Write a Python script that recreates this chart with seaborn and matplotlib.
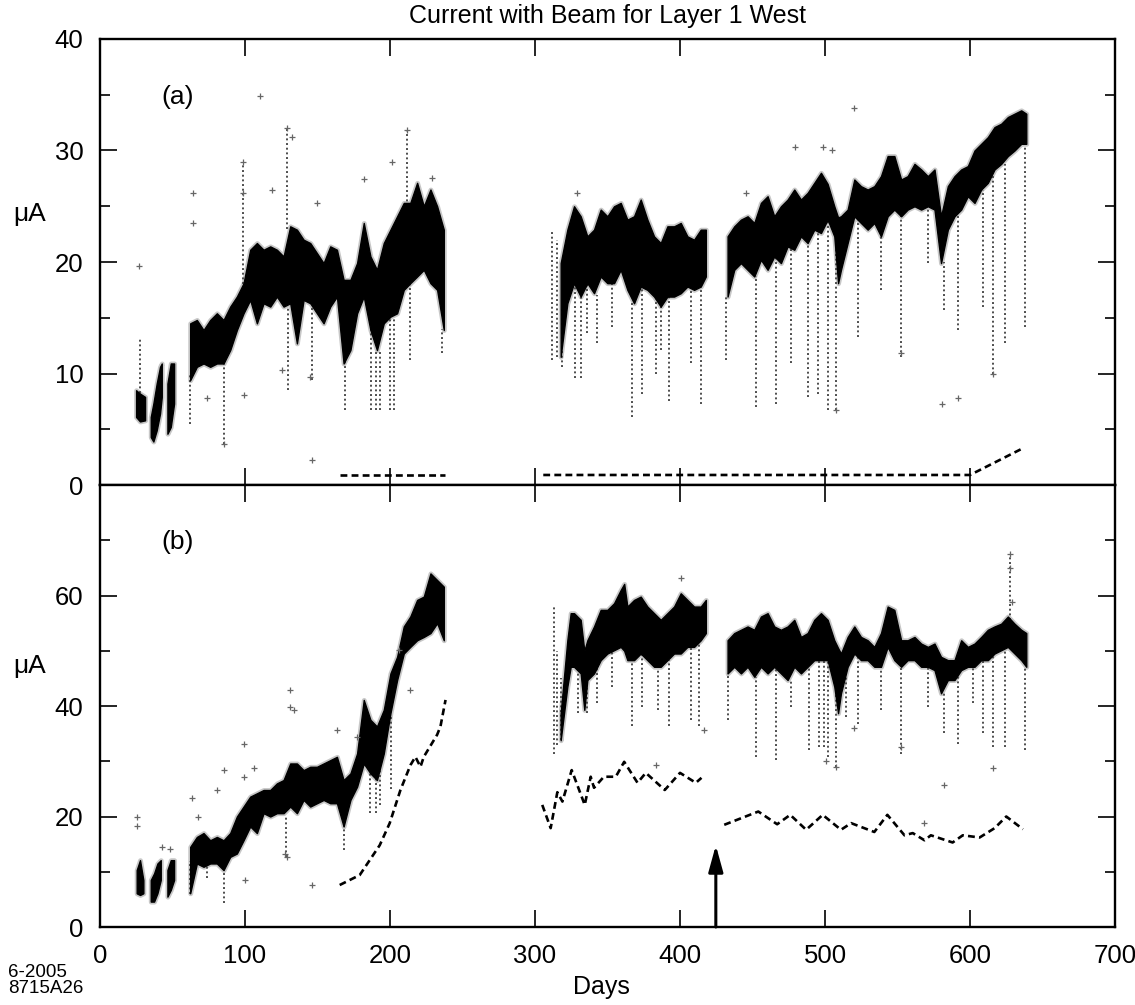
import numpy as np
import pandas as pd
import matplotlib
matplotlib.use("Agg")
import matplotlib.pyplot as plt
import seaborn as sns
from matplotlib.ticker import MultipleLocator

sns.set_style("ticks")
plt.rcParams['font.family'] = ['Liberation Sans', 'DejaVu Sans']
for k in ["text.color", "axes.labelcolor", "xtick.color", "ytick.color", "axes.edgecolor"]:
    plt.rcParams[k] = "black"

# ---------------- data ----------------
TITLE = "Current with Beam for Layer 1 West"
x_ticks = [0, 100, 200, 300, 400, 500, 600, 700]

# dense band of panel (a): (day, low, high) per running period
top_core_1 = [(24.9, 6.1, 8.5), (27.6, 5.7, 8.2), (31.1, 5.8, 7.9)]
top_core_2 = [(35.0, 4.3, 6.1), (36.8, 3.9, 7.3), (39.1, 4.9, 9.1), (41.4, 6.4, 10.6), (42.6, 7.9, 10.9)]
top_core_3 = [(46.5, 4.6, 9.1), (48.8, 5.2, 10.9), (51.1, 7.3, 10.9)]
top_core_4 = [(62.2, 9.4, 14.5), (66.8, 10.6, 14.8), (71.4, 10.9, 13.9), (76.0, 10.6, 14.8),
              (80.6, 10.9, 15.4), (85.2, 10.9, 14.8), (89.8, 12.1, 16.0), (94.4, 13.9, 16.9),
              (99.0, 15.4, 18.1), (103.6, 16.6, 21.1), (108.2, 14.5, 21.7), (112.8, 16.3, 21.1),
              (117.4, 16.0, 21.4), (122.0, 16.9, 21.1), (126.6, 16.0, 20.5), (131.2, 16.3, 23.2),
              (135.8, 12.7, 22.9), (140.4, 16.6, 22.0), (145.0, 16.3, 21.7), (149.6, 15.4, 20.8),
              (154.2, 14.5, 19.9), (158.8, 16.0, 21.4), (163.4, 16.9, 21.1), (168.0, 10.9, 18.4),
              (172.7, 12.1, 18.4), (177.3, 15.4, 19.9), (181.9, 16.9, 23.5), (186.5, 13.9, 20.5),
              (191.0, 12.1, 19.3), (195.7, 14.5, 21.7), (200.3, 15.1, 22.9), (204.9, 15.4, 24.1),
              (209.5, 17.5, 25.3), (214.0, 18.1, 25.3), (218.7, 18.7, 27.1), (223.3, 19.3, 25.0),
              (227.9, 18.1, 26.5), (232.5, 17.5, 25.0), (237.1, 13.9, 22.9)]
top_core_5 = [(317.7, 11.5, 19.9), (322.3, 16.3, 22.9), (326.9, 18.1, 25.0), (331.5, 16.9, 24.1),
              (336.1, 18.1, 22.3), (340.7, 17.2, 22.9), (345.3, 18.7, 24.7), (349.9, 18.1, 24.1),
              (354.5, 18.1, 25.0), (359.1, 19.3, 25.3), (363.7, 17.5, 23.8), (368.3, 16.3, 24.1),
              (372.9, 17.8, 25.6), (377.5, 17.5, 23.8), (382.1, 16.9, 22.3), (386.7, 16.0, 21.7),
              (391.3, 16.9, 23.2), (395.9, 16.9, 23.2), (400.5, 17.2, 23.5), (405.1, 17.8, 22.3),
              (409.7, 17.5, 22.0), (414.3, 17.8, 22.9), (417.8, 18.7, 22.9)]
top_core_6 = [(432.8, 16.9, 22.3), (437.4, 19.3, 23.2), (442.0, 19.9, 23.8), (446.6, 19.3, 24.1),
              (451.2, 18.7, 23.5), (455.8, 20.2, 25.3), (460.4, 19.3, 25.9), (465.0, 20.5, 24.1),
              (469.6, 19.9, 25.0), (474.2, 21.4, 25.6), (478.8, 21.1, 26.5), (483.4, 22.3, 25.6),
              (488.0, 21.7, 26.2), (492.6, 22.9, 27.1), (497.2, 22.6, 28.0), (501.8, 23.8, 27.0),
              (506.4, 22.3, 25.0), (509.0, 18.1, 24.0), (511.0, 19.3, 24.1), (515.6, 21.7, 24.7),
              (520.2, 24.1, 27.4), (524.8, 23.5, 26.8), (529.4, 22.9, 26.5), (534.0, 23.5, 26.8),
              (538.6, 22.3, 27.7), (543.2, 24.1, 29.5), (547.8, 24.7, 29.5), (552.5, 24.1, 27.4),
              (557.0, 24.7, 27.7), (561.7, 25.0, 28.8), (566.3, 24.7, 28.3), (570.9, 25.0, 27.7),
              (575.5, 24.7, 28.3), (580.0, 19.9, 24.1), (584.7, 22.9, 26.8), (589.3, 24.1, 27.7),
              (593.9, 24.7, 28.3), (598.5, 25.9, 28.6), (603.1, 25.3, 30.0), (607.7, 26.5, 30.6),
              (612.3, 27.1, 31.2), (616.9, 28.3, 32.1), (621.5, 28.8, 32.4), (626.1, 29.5, 33.0),
              (630.7, 30.0, 33.3), (635.3, 30.6, 33.6), (638.8, 30.6, 33.3)]

# sparse streaks of panel (a): (day, low, high)
top_tails = [(27.6, 5.7, 13.3), (62.0, 5.5, 10.0), (85.2, 3.7, 11.0), (130.0, 8.5, 16.0),
             (146.0, 9.4, 16.0), (169.0, 6.7, 11.0), (187.0, 6.7, 14.0), (190.0, 6.7, 12.0),
             (193.0, 6.7, 12.0), (200.0, 6.7, 15.0), (203.0, 6.7, 15.0), (214.0, 11.2, 18.0),
             (236.0, 11.8, 14.0), (129.0, 23.0, 32.0), (211.8, 25.0, 31.8), (98.5, 18.0, 29.0),
             (312.0, 11.2, 22.9), (315.0, 11.5, 22.0), (318.9, 10.6, 16.0), (327.5, 9.6, 18.0),
             (331.5, 9.6, 17.0), (335.6, 13.6, 18.0), (343.0, 12.7, 17.0), (353.3, 14.2, 18.0),
             (367.1, 6.1, 16.3), (374.0, 8.2, 17.8), (383.3, 10.0, 16.9), (386.7, 12.1, 16.0),
             (392.5, 7.5, 16.9), (407.4, 10.9, 17.8), (414.3, 7.3, 17.8),
             (431.6, 11.2, 17.0), (452.4, 7.0, 18.7), (466.1, 7.3, 20.5), (476.5, 10.9, 21.4),
             (488.0, 7.9, 21.7), (495.0, 8.2, 22.9), (502.0, 6.7, 23.8), (507.6, 6.7, 22.3),
             (522.5, 13.3, 24.0), (538.6, 17.5, 22.3), (552.5, 11.5, 24.1), (570.9, 19.9, 25.0),
             (582.4, 15.7, 20.0), (591.6, 13.9, 24.1), (609.0, 16.0, 26.5), (615.8, 10.0, 28.0),
             (623.8, 12.7, 28.8), (637.6, 14.2, 30.6)]

top_out_day = [27.2, 110.5, 64, 64, 98.5, 98.5, 129, 132.4, 211.8, 201.4, 181.9, 146.2, 85.2, 99,
               73.7, 125.5, 145, 149.6, 118.6, 229, 520, 581, 591.6, 552.5, 615.8, 507.6, 479,
               498.4, 505, 445.4, 329]
top_out_val = [19.6, 34.9, 26.2, 23.5, 29.0, 26.2, 32.0, 31.2, 31.8, 29.0, 27.4, 2.2, 3.7, 8.1,
               7.8, 10.3, 9.7, 25.3, 26.5, 27.5, 33.8, 7.3, 7.8, 11.8, 10.0, 6.7, 30.3,
               30.3, 30.0, 26.2, 26.2]

# dashed curves of panel (a)
top_dash_1_day = [165.3, 237.6]
top_dash_1_val = [0.9, 0.9]
top_dash_2_day = [305.7, 600.0, 636.5]
top_dash_2_val = [0.9, 0.9, 3.3]

# dense band of panel (b)
bot_core_1 = [(25.3, 6.1, 10.3), (27.6, 5.8, 12.1), (29.9, 6.1, 8.5)]
bot_core_2 = [(35.0, 4.6, 8.5), (37.3, 4.6, 9.7), (39.6, 6.1, 11.5), (41.9, 8.5, 12.1)]
bot_core_3 = [(46.5, 5.5, 10.3), (48.8, 6.7, 12.1), (51.1, 8.5, 12.1)]
bot_core_4 = [(62.2, 6.1, 14.5), (66.8, 11.5, 16.3), (71.4, 10.9, 17.0), (76.0, 11.5, 15.7),
              (80.6, 11.5, 16.3), (85.2, 10.3, 15.7), (89.8, 12.7, 17.0), (94.4, 13.3, 20.0),
              (99.0, 15.7, 21.8), (103.6, 18.2, 23.6), (108.2, 17.0, 24.2), (112.8, 20.6, 24.8),
              (117.4, 20.0, 24.8), (122.0, 20.6, 26.0), (126.6, 20.6, 26.6), (131.2, 21.8, 29.6),
              (135.8, 20.6, 29.6), (140.4, 23.0, 28.4), (145.0, 21.8, 29.0), (149.6, 22.4, 29.0),
              (154.2, 23.0, 29.6), (158.8, 22.4, 30.2), (163.4, 22.4, 30.8), (168.0, 18.2, 26.6),
              (172.7, 23.0, 27.8), (177.3, 25.4, 31.4), (181.9, 29.6, 41.1), (186.5, 27.8, 37.5),
              (191.0, 26.6, 36.3), (195.7, 31.4, 39.3), (200.3, 38.7, 45.9), (204.9, 44.7, 48.9),
              (209.5, 49.5, 54.4), (214.0, 50.7, 56.2), (218.7, 51.9, 59.2), (223.3, 52.5, 59.8),
              (227.9, 53.2, 64.0), (232.5, 55.0, 62.8), (237.1, 51.9, 61.6)]
bot_core_5 = [(317.7, 33.8, 38.7), (322.3, 43.5, 51.9), (324.6, 47.1, 56.8), (326.9, 47.1, 56.8),
              (331.5, 45.9, 55.6), (334.0, 39.3, 50.0), (336.1, 44.7, 51.9), (340.7, 45.9, 54.4),
              (345.3, 48.3, 57.4), (349.9, 49.5, 57.4), (354.5, 50.1, 58.6), (359.1, 50.7, 61.0),
              (361.5, 50.0, 62.1), (363.7, 48.3, 58.0), (368.3, 48.3, 59.2), (372.9, 49.5, 59.8),
              (377.5, 48.3, 58.0), (382.1, 47.1, 56.8), (386.7, 47.1, 55.6), (391.3, 48.3, 56.8),
              (395.9, 49.5, 58.0), (400.5, 49.5, 60.4), (405.1, 50.7, 59.2), (409.7, 50.7, 58.0),
              (414.3, 51.9, 58.0), (417.8, 53.2, 59.2)]
bot_core_6 = [(432.8, 45.9, 51.9), (437.4, 47.1, 53.2), (442.0, 45.9, 53.8), (446.6, 47.1, 54.4),
              (451.2, 45.3, 53.8), (455.8, 47.1, 56.2), (460.4, 45.9, 56.8), (465.0, 47.1, 54.4),
              (469.6, 45.9, 53.8), (474.2, 44.7, 54.4), (478.8, 47.1, 55.6), (483.4, 45.9, 52.5),
              (488.0, 47.1, 53.2), (492.6, 48.3, 55.6), (497.2, 48.3, 56.8), (501.8, 48.3, 55.6),
              (506.4, 43.5, 51.9), (509.0, 38.7, 50.5), (511.0, 42.3, 49.5), (515.6, 47.1, 52.5),
              (520.2, 49.5, 54.4), (524.8, 48.3, 52.5), (529.4, 48.3, 51.9), (534.0, 47.1, 50.7),
              (538.6, 47.1, 53.2), (543.2, 50.7, 58.0), (547.8, 48.3, 57.4), (552.5, 47.1, 51.9),
              (557.0, 48.3, 51.9), (561.7, 48.3, 52.5), (566.3, 47.1, 51.3), (570.9, 47.1, 50.7),
              (575.5, 46.5, 51.3), (580.0, 42.3, 48.9), (584.7, 44.7, 48.3), (589.3, 44.7, 48.3),
              (593.9, 46.5, 51.9), (598.5, 47.1, 50.7), (603.1, 47.1, 51.3), (607.7, 48.3, 52.5),
              (612.3, 48.3, 53.8), (616.9, 49.5, 54.4), (621.5, 50.1, 54.9), (626.1, 50.7, 56.2),
              (630.7, 49.5, 54.9), (635.3, 48.3, 53.8), (638.8, 47.1, 53.2)]

bot_tails = [(62.0, 6.0, 12.0), (85.2, 4.3, 11.0), (73.7, 8.8, 11.0), (128.5, 12.7, 20.0),
             (168.0, 14.0, 18.2), (186.0, 20.6, 28.0), (190.0, 20.6, 27.0), (193.0, 22.0, 30.0),
             (201.0, 25.0, 38.0),
             (313.0, 31.4, 58.0), (315.0, 33.0, 50.0), (317.7, 33.8, 45.0), (329.5, 38.7, 47.0),
             (336.1, 38.7, 45.0), (343.0, 40.5, 48.0), (353.3, 43.5, 50.0), (367.1, 36.3, 48.3),
             (374.0, 39.9, 49.5), (384.5, 39.3, 47.0), (392.5, 36.3, 48.3), (407.4, 37.5, 50.7),
             (413.2, 36.3, 51.9),
             (432.8, 37.5, 46.0), (452.4, 30.8, 45.3), (466.1, 30.2, 47.1), (476.5, 39.9, 44.7),
             (489.2, 32.0, 47.1), (496.0, 32.6, 48.3), (501.8, 30.8, 48.3), (499.5, 32.6, 48.3),
             (507.6, 29.0, 43.5), (514.5, 38.1, 47.0), (522.5, 36.8, 49.5), (538.6, 39.3, 47.1),
             (552.5, 31.4, 47.1), (570.9, 39.9, 47.1), (582.4, 35.1, 42.3), (591.6, 33.2, 46.5),
             (601.9, 40.5, 47.1), (608.9, 35.1, 48.3), (615.8, 32.6, 49.5), (623.8, 32.6, 50.1),
             (638.0, 32.0, 47.1), (627.3, 53.0, 67.6)]

bot_out_day = [25.3, 25.3, 42.6, 48.3, 67.9, 63.3, 80.6, 85.2, 99, 99, 100.1, 105.9, 131.2, 131.2,
               133.5, 146.2, 163.4, 177.3, 127.8, 128.9, 206, 214, 400.5, 383.3, 416.6, 615.8,
               582.4, 568.6, 627.3, 627.3, 628.9, 552.5, 507.6, 520, 501]
bot_out_val = [20, 18.2, 14.5, 14.2, 20, 23.3, 24.8, 28.4, 33.2, 27.2, 8.5, 28.7, 42.9, 39.9,
               39.3, 7.6, 35.7, 34.4, 13.3, 12.7, 50.1, 42.9, 63.1, 29.3, 35.7, 28.7,
               25.7, 18.8, 67.6, 64.9, 58.9, 32.6, 29.0, 36, 30]

bot_dash_1_day = [165.3, 179.1, 192.9, 199.8, 207.2, 214.1, 217.5, 221.0, 223.3, 232.5, 234.8, 238.3]
bot_dash_1_val = [7.6, 9.4, 14.8, 18.8, 24.8, 29.3, 30.8, 29.0, 30.8, 34.8, 36.3, 41.1]
bot_dash_2_day = [305.0, 310.8, 315.4, 318.9, 325.3, 334.3, 338.4, 340.7, 347.5, 355.7, 361.5,
                  370.7, 376.4, 389.5, 400.0, 410.9, 414.8]
bot_dash_2_val = [22.1, 17.9, 24.4, 22.7, 28.4, 22.1, 27.2, 25.2, 27.2, 27.2, 29.9,
                  26.1, 27.9, 24.8, 27.9, 26.1, 27.0]
bot_dash_3_day = [430.5, 454.0, 467.0, 476.0, 487.0, 498.4, 511.0, 518.0, 534.0, 543.0, 554.8,
                  560.5, 568.6, 573.0, 588.0, 595.0, 606.6, 617.0, 625.0, 636.5]
bot_dash_3_val = [18.5, 20.9, 18.6, 20.3, 17.6, 20.3, 17.6, 18.8, 17.2, 20.3, 16.6,
                  17.0, 15.7, 16.6, 15.3, 16.6, 16.2, 17.9, 20.0, 17.7]

arrow_day = 424.7
arrow_top = 14.8

# ---------------- figure ----------------
fig = plt.figure(figsize=(11.35, 10.05), dpi=100)
ax_top = fig.add_axes([0.0881, 0.5174, 0.8943, 0.4438])
ax_bot = fig.add_axes([0.0881, 0.0776, 0.8943, 0.4398])

DASH = (0, (2.6, 1.6))


def draw_panel(ax, cores, tails, out_day, out_val, dashes):
    for seg in cores:
        d = pd.DataFrame(seg, columns=["day", "lo", "hi"])
        ax.fill_between(d["day"], d["lo"], d["hi"], color="0.78", edgecolor="0.78",
                        linewidth=3.5, zorder=1)
    t = pd.DataFrame(tails, columns=["day", "lo", "hi"])
    ax.vlines(t["day"], t["lo"], t["hi"], colors="0.3", linestyles=(0, (1.0, 1.4)),
              linewidth=1.4, zorder=1.5)
    for seg in cores:
        d = pd.DataFrame(seg, columns=["day", "lo", "hi"])
        ax.fill_between(d["day"], d["lo"], d["hi"], color="black", edgecolor="black",
                        linewidth=1.0, zorder=2)
    o = pd.DataFrame({"day": out_day, "val": out_val})
    sns.scatterplot(data=o, x="day", y="val", marker="+", s=22, color="0.4",
                    linewidth=0.9, ax=ax, zorder=2.5, legend=False)
    for dd, vv in dashes:
        sns.lineplot(x=dd, y=vv, ax=ax, color="black", linewidth=1.9, linestyle=DASH,
                     sort=False, estimator=None, zorder=3)


draw_panel(ax_top, [top_core_1, top_core_2, top_core_3, top_core_4, top_core_5, top_core_6],
           top_tails, top_out_day, top_out_val,
           [(top_dash_1_day, top_dash_1_val), (top_dash_2_day, top_dash_2_val)])
draw_panel(ax_bot, [bot_core_1, bot_core_2, bot_core_3, bot_core_4, bot_core_5, bot_core_6],
           bot_tails, bot_out_day, bot_out_val,
           [(bot_dash_1_day, bot_dash_1_val), (bot_dash_2_day, bot_dash_2_val),
            (bot_dash_3_day, bot_dash_3_val)])

ax_bot.annotate("", xy=(arrow_day, arrow_top), xytext=(arrow_day, 0),
                arrowprops=dict(arrowstyle="-|>,head_length=0.8,head_width=0.22",
                                color="black", lw=2.2, mutation_scale=20,
                                shrinkA=0, shrinkB=0), zorder=4)

for ax in (ax_top, ax_bot):
    ax.set_xlim(0, 700)
    ax.set_xticks(x_ticks)
    ax.set_xlabel("")
    ax.set_ylabel("")
    ax.tick_params(which="both", direction="in", top=True, right=True, width=1.2,
                   labelsize=18.5, pad=12, color="black", labelcolor="black")
    ax.tick_params(which="major", length=12)
    ax.tick_params(which="minor", length=7)
    for s in ax.spines.values():
        s.set_linewidth(1.7)
        s.set_color("black")

ax_top.set_ylim(0, 40)
ax_top.set_yticks([0, 10, 20, 30, 40])
ax_top.yaxis.set_minor_locator(MultipleLocator(5))
ax_top.tick_params(axis="x", labelbottom=False)

ax_bot.set_ylim(0, 80)
ax_bot.set_yticks([0, 20, 40, 60, 80])
ax_bot.set_yticklabels(["0", "20", "40", "60", ""])
ax_bot.yaxis.set_minor_locator(MultipleLocator(10))
ax_bot.set_xticklabels([str(v) for v in x_ticks])

ax_top.text(42.5, 34.8, "(a)", fontsize=19, ha="left", va="center", color="black")
ax_bot.text(42.5, 69.6, "(b)", fontsize=19, ha="left", va="center", color="black")

fig.text(0.535, 0.984, TITLE, fontsize=18, ha="center", va="center", color="black")
fig.text(0.026, 1 - 214 / 1005, "μA", fontsize=19, ha="center", va="center", color="black")
fig.text(0.026, 1 - 666 / 1005, "μA", fontsize=19, ha="center", va="center", color="black")
fig.text(0.53, 1 - 987 / 1005, "Days", fontsize=18, ha="center", va="center", color="black")
fig.text(0.007, 1 - 972 / 1005, "6-2005", fontsize=13.5, ha="left", va="center", color="black")
fig.text(0.007, 1 - 988 / 1005, "8715A26", fontsize=13.5, ha="left", va="center", color="black")

fig.savefig("out.png", dpi=100)
